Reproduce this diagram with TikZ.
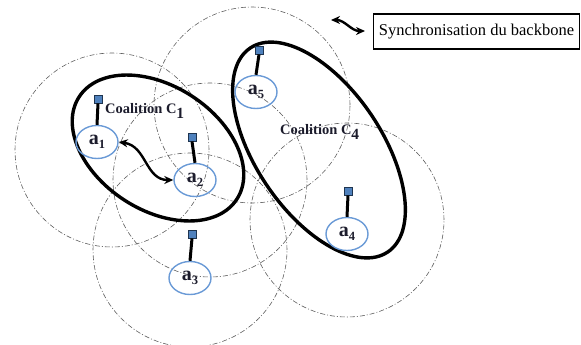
\documentclass[tikz,border=0pt]{standalone}
\usepackage{fontspec}
\setmainfont{Liberation Serif}
\usetikzlibrary{shapes.geometric,arrows.meta}
\definecolor{agentblue}{HTML}{6A9AD6}
\definecolor{antfill}{HTML}{4F81BD}
\definecolor{antline}{HTML}{1F3550}
\definecolor{labelink}{HTML}{1C1C2C}
\definecolor{rangegray}{HTML}{606060}
\newcommand{\agentlbl}[1]{{\bfseries\fontsize{20}{20}\selectfont a\raisebox{-4.5pt}{\fontsize{12.5}{12.5}\selectfont #1}}}
\newcommand{\coallbl}[1]{{\bfseries\fontsize{14.5}{14.5}\selectfont Coalition C\raisebox{-4.5pt}{\fontsize{15.5}{15.5}\selectfont #1}}}
\begin{document}
\begin{tikzpicture}[x=1pt,y=-1pt,
  radiorange/.style={draw=rangegray,line width=0.6pt,dash pattern=on 5pt off 2pt on 1pt off 2pt},
  agent/.style={draw=agentblue,line width=1.4pt,ellipse,minimum width=42pt,minimum height=33pt,inner sep=0pt,text=labelink},
  antenna/.style={draw=antline,fill=antfill,line width=0.8pt,rectangle,minimum size=8pt,inner sep=0pt},
  mast/.style={line width=3pt,black},
  coalition/.style={draw=black,line width=3.4pt,ellipse,inner sep=0pt},
  exchange/.style={line width=2.4pt,black,{Stealth[length=9pt,width=8pt]}-{Stealth[length=9pt,width=8pt]}},
  legendbox/.style={draw=black,line width=1.4pt,rectangle,inner sep=0pt,minimum width=206pt,minimum height=35pt,font=\fontsize{16.5}{16.5}\selectfont}
]
\useasboundingbox (0,0) rectangle (581,345);

% communication ranges
\draw[radiorange] (112,150) circle (97pt);
\draw[radiorange] (252,105) circle (98pt);
\draw[radiorange] (210,180) circle (97pt);
\draw[radiorange] (190,250) circle (97pt);
\draw[radiorange] (347,220) circle (97pt);

% coalitions
\node[coalition,minimum width=188pt,minimum height=124pt,rotate=-33] (c1) at (158,148) {};
\node[coalition,minimum width=246pt,minimum height=126pt,rotate=-56] (c4) at (319,150) {};

% agents
\node[agent] (a1) at (97,142) {\agentlbl{1}};
\node[agent] (a2) at (195,180) {\agentlbl{2}};
\node[agent] (a3) at (190,278) {\agentlbl{3}};
\node[agent] (a4) at (347,234) {\agentlbl{4}};
\node[agent] (a5) at (256,92) {\agentlbl{5}};

% antennas
\node[antenna] (n1) at (98,99) {};
\node[antenna] (n2) at (192,137) {};
\node[antenna] (n3) at (192,234) {};
\node[antenna] (n4) at (348,191) {};
\node[antenna] (n5) at (259,50) {};
\foreach \i in {1,...,5} \draw[mast] (n\i.south) -- (a\i.north);

% coalition labels
\node[text=labelink,anchor=west,inner sep=0pt] (l1) at (105,111) {\coallbl{1}};
\node[text=labelink,anchor=west,inner sep=0pt] (l4) at (280,132) {\coallbl{4}};

% exchange inside coalition C1
\draw[exchange] (a1.east) .. controls +(28,4) and +(-28,0) .. (a2.west);

% legend
\node[legendbox] (leg) at (476.5,31.5) {Synchronisation du backbone};
\coordinate (s1) at (331,20);
\coordinate (s2) at (365,31);
\draw[exchange] (s1) .. controls +(14,0) and +(-14,0) .. (s2);
\end{tikzpicture}
\end{document}
